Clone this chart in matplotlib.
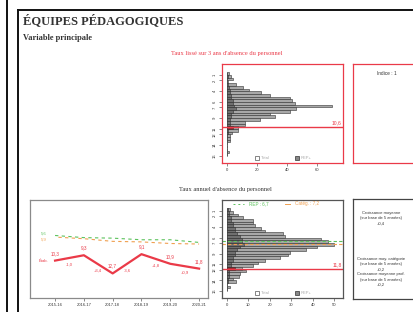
import numpy as np
import matplotlib
matplotlib.use("Agg")
import matplotlib.pyplot as plt
from matplotlib.lines import Line2D

plt.rcParams['font.family'] = ['Liberation Sans', 'DejaVu Sans']

W, H = 414, 312

# ---- data ----
years = ['2015-16', '2016-17', '2017-18', '2018-19', '2019-20', '2020-21']
etab = [10.3, 9.3, 12.7, 9.1, 10.9, 11.8]
rep = [5.6, 6.0, 6.1, 6.4, 6.4, 6.9]
categ = [5.9, 6.2, 6.7, 6.8, 7.1, 7.2]

bins = np.arange(0.75, 16.0, 0.5)
top_total = [1.5, 3, 4, 1, 6.5, 11, 15, 23, 29, 42, 43, 45, 70, 46, 42, 29,
             32, 22, 12, 12, 7.5, 7.5, 3.5, 2, 2, 2.5, 0, 0, 0, 1.5, 0]
top_rep = [0.5, 1, 0.5, 0, 1, 1.5, 2, 2, 3, 3, 4, 4, 5, 6, 4, 3,
           3, 2, 2, 2, 1.5, 1, 1, 0.5, 0.5, 0, 0, 0, 0, 0, 0]
bot_total = [1.4, 3, 5.3, 7.6, 12.3, 12, 13, 16, 17.8, 26, 27, 44, 47, 49.6, 42, 37,
             29.4, 28.6, 24.8, 18, 14.6, 12.3, 6.9, 9.2, 6.1, 5.7, 3, 4.5, 0, 1.4, 0]
bot_rep = [0.5, 1, 1, 2, 2, 3, 3, 4, 4, 5, 6, 7, 7, 8, 6, 5,
           4, 4, 3, 3, 2, 2, 1, 1, 1, 1, 0.5, 0.5, 0, 0, 0]
top_value = 10.6
bot_value = 11.8
rep_mean = 6.7
categ_mean = 7.2

ytick_vals = [1, 2, 4, 6, 7, 9, 11, 12, 14, 16]

RED = '#ea3a48'
GREEN = '#5cc25c'
ORANGE = '#f0a050'


def rect(x0, y0, x1, y1):
    return [x0 / W, 1 - y1 / H, (x1 - x0) / W, (y1 - y0) / H]


def fr(v):
    return ('%.1f' % v).replace('.', ',')


fig = plt.figure(figsize=(W / 100, H / 100), dpi=100)

# page frame
fig.add_artist(Line2D([7 / W, 7 / W], [0, 1], color='#111', lw=1.4, transform=fig.transFigure))
fig.add_artist(Line2D([18.5 / W, 18.5 / W], [0, 1 - 10 / H], color='#111', lw=1.4, transform=fig.transFigure))
fig.add_artist(Line2D([18.5 / W, 1], [1 - 10 / H, 1 - 10 / H], color='#111', lw=1.4, transform=fig.transFigure))

fig.text(23 / W, 1 - 24 / H, 'ÉQUIPES PÉDAGOGIQUES', family='Liberation Serif',
         weight='bold', size=9, color='#333')
fig.text(23 / W, 1 - 40 / H, 'Variable principale', family='Liberation Serif',
         weight='bold', size=6, color='#333')
fig.text(227 / W, 1 - 53 / H, "Taux lissé sur 3 ans d'absence du personnel",
         family='Liberation Serif', size=4.6, color=RED, ha='center', va='center')
fig.text(225 / W, 1 - 189 / H, "Taux annuel d'absence du personnel",
         family='Liberation Serif', size=4.6, color='#333', ha='center', va='center')


def histo(ax, total, rep_part, xmax, xticks, value, edge):
    ax.barh(bins, total, height=0.5, color='#a8a8a8', edgecolor='#303030', lw=0.4)
    ax.barh(bins, rep_part, height=0.5, color='#707070', edgecolor='#303030', lw=0.4)
    i = int(np.argmin(np.abs(bins - value)))
    ax.barh(bins[i], rep_part[i] + 3, height=0.5, color='#a02830', edgecolor='#303030', lw=0.4)
    ax.axhline(value, color=RED, lw=1.0)
    ax.text(0.99, value - 0.3, fr(value), color=RED, size=3.6, ha='right', va='bottom',
            transform=ax.get_yaxis_transform())
    ax.set_ylim(17.3, -1.04)
    ax.set_xlim(-xmax * 0.04, xmax)
    ax.set_yticks(ytick_vals)
    ax.set_yticklabels([str(v) for v in ytick_vals], rotation=90, va='center')
    ax.set_xticks(xticks)
    ax.tick_params(labelsize=3, length=2, width=0.4, pad=1.5, colors='#333')
    for s in ax.spines.values():
        s.set_color(edge)
        s.set_linewidth(0.9)


# top histogram
ax1 = fig.add_axes(rect(222, 64, 343, 163))
histo(ax1, top_total, top_rep, 77, [0, 20, 40, 60], top_value, RED)
ax1.plot([0.29], [0.05], 's', ms=3, mfc='white', mec='#555', mew=0.5, transform=ax1.transAxes)
ax1.text(0.32, 0.05, 'Total', size=3, color='#aaa', va='center', transform=ax1.transAxes)
ax1.plot([0.62], [0.05], 's', ms=3, mfc='#888', mec='#333', mew=0.5, transform=ax1.transAxes)
ax1.text(0.65, 0.05, 'REP+', size=3, color='#aaa', va='center', transform=ax1.transAxes)

# top index box
ax2 = fig.add_axes(rect(353, 64, 425, 163))
ax2.set_xticks([])
ax2.set_yticks([])
for s in ax2.spines.values():
    s.set_color(RED)
    s.set_linewidth(0.9)
ax2.text(0.47, 0.9, 'Indice : 1', size=3.4, color='#333', ha='center', va='center',
         transform=ax2.transAxes)

# line chart
ax3 = fig.add_axes(rect(30, 200, 208, 298))
x = np.arange(len(years))
ax3.plot(x, rep, color=GREEN, lw=0.8, ls=(0, (3, 3)))
ax3.plot(x, categ, color=ORANGE, lw=0.8, ls=(3, (3, 3)))
ax3.plot(x, etab, color=RED, lw=1.6)
for xi, v in zip(x, etab):
    ax3.text(xi, v - 0.9, fr(v), color=RED, size=3.3, ha='center', va='bottom')
for k in range(len(etab) - 1):
    d = etab[k + 1] - etab[k]
    ax3.text(x[k] + 0.5, (etab[k] + etab[k + 1]) / 2 + 1.2, ('+' if d >= 0 else '') + fr(d),
             color=RED, size=3.0, ha='center', va='center')
ax3.text(-0.4, etab[0], 'Étab.', color=RED, size=3.0, ha='center', va='center')
ax3.text(-0.4, rep[0] - 0.4, fr(rep[0]), color=GREEN, size=3.0, ha='center', va='center')
ax3.text(-0.4, categ[0] + 0.4, fr(categ[0]), color=ORANGE, size=3.0, ha='center', va='center')
ax3.set_xlim(-0.87, 5.31)
ax3.set_ylim(17.3, -1.04)
ax3.set_yticks([])
ax3.set_xticks(x)
ax3.set_xticklabels(years)
ax3.tick_params(labelsize=3, length=2, width=0.4, pad=1.5, colors='#333')
for s in ax3.spines.values():
    s.set_color('#8a8a8a')
    s.set_linewidth(0.9)

# bottom histogram
ax4 = fig.add_axes(rect(222, 200, 343, 298))
histo(ax4, bot_total, bot_rep, 54, [0, 10, 20, 30, 40, 50], bot_value, '#555')
ax4.axhline(rep_mean, color=GREEN, lw=0.8, ls=(0, (3, 2)))
ax4.axhline(categ_mean, color=ORANGE, lw=0.8, ls=(0, (3, 2)))
ax4.plot([0.09, 0.18], [0.96, 0.96], color=GREEN, lw=0.7, ls=(0, (2, 3)), transform=ax4.transAxes)
ax4.text(0.22, 0.96, 'REP : ' + fr(rep_mean), size=3.3, color=GREEN, va='center',
         transform=ax4.transAxes)
ax4.plot([0.52, 0.56], [0.96, 0.96], color=ORANGE, lw=0.7, transform=ax4.transAxes)
ax4.text(0.6, 0.96, 'Catég. : ' + fr(categ_mean), size=3.3, color=ORANGE, va='center',
         transform=ax4.transAxes)
ax4.plot([0.29], [0.05], 's', ms=3, mfc='white', mec='#555', mew=0.5, transform=ax4.transAxes)
ax4.text(0.32, 0.05, 'Total', size=3, color='#aaa', va='center', transform=ax4.transAxes)
ax4.plot([0.62], [0.05], 's', ms=3, mfc='#888', mec='#333', mew=0.5, transform=ax4.transAxes)
ax4.text(0.65, 0.05, 'REP+', size=3, color='#aaa', va='center', transform=ax4.transAxes)

# bottom growth box
ax5 = fig.add_axes(rect(353, 199, 425, 299))
ax5.set_xticks([])
ax5.set_yticks([])
for s in ax5.spines.values():
    s.set_color('#444')
    s.set_linewidth(0.9)
growth_titles = ['Croissance moyenne', 'Croissance moy. catégorie', 'Croissance moyenne prof.']
growth_values = [0.4, 0.2, 0.2]
growth_y = [0.88, 0.42, 0.27]
for t, gv, gy in zip(growth_titles, growth_values, growth_y):
    ax5.text(0.39, gy, t + '\n(sur base de 5 années)\n+' + fr(gv), size=3.0, color='#333',
             ha='center', va='top', linespacing=1.5, transform=ax5.transAxes)

fig.savefig('out.png', dpi=100)
